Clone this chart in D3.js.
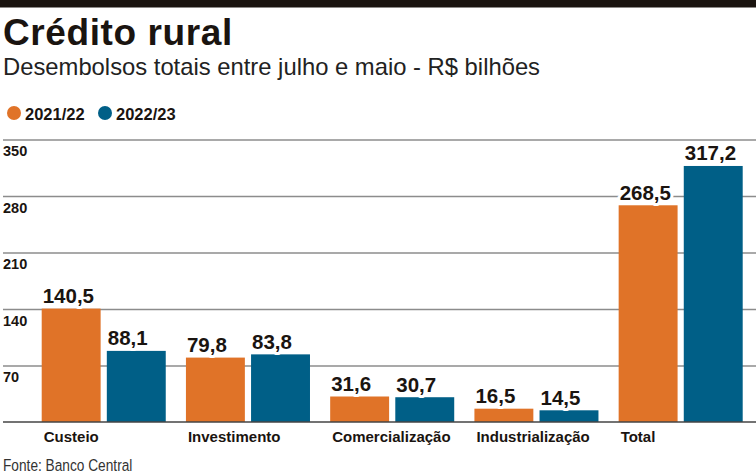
<!DOCTYPE html>
<html>
<head>
<meta charset="utf-8">
<script src="https://cdn.jsdelivr.net/npm/d3@7"></script>
<style>
  body { margin: 0; background: #fff; }
  svg { display: block; font-family: "Liberation Sans", Arial, sans-serif; }
</style>
</head>
<body>
<div id="chart"></div>
<script>
// data
const categories = ["Custeio", "Investimento", "Comercialização", "Industrialização", "Total"];
const seriesNames = ["2021/22", "2022/23"];
const values2122 = [140.5, 79.8, 31.6, 16.5, 268.5];
const values2223 = [88.1, 83.8, 30.7, 14.5, 317.2];
const yTicks = [70, 140, 210, 280, 350];
const colors = ["#e07328", "#005f87"];

const W = 756, H = 473;
const ink = "#1a1410";

const svg = d3.select("#chart")
  .append("svg")
  .attr("width", W)
  .attr("height", H);

// top black strip
svg.append("rect")
  .attr("x", 0).attr("y", 0)
  .attr("width", W).attr("height", 7.5)
  .attr("fill", ink);

// title + subtitle
svg.append("text")
  .attr("x", 3).attr("y", 45)
  .attr("font-size", 37)
  .attr("font-weight", 900)
  .attr("letter-spacing", 0.6)
  .attr("fill", ink)
  .text("Crédito rural");

svg.append("text")
  .attr("x", 3).attr("y", 75)
  .attr("font-size", 23.8)
  .attr("fill", "#222")
  .text("Desembolsos totais entre julho e maio - R$ bilhões");

// legend
const legendX = [14, 105];
const legend = svg.selectAll(".legend")
  .data(seriesNames)
  .enter()
  .append("g")
  .attr("class", "legend")
  .attr("transform", (d, i) => `translate(${legendX[i]},113)`);

legend.append("circle")
  .attr("r", 7)
  .attr("fill", (d, i) => colors[i]);

legend.append("text")
  .attr("x", 11)
  .attr("y", 7)
  .attr("font-size", 16.5)
  .attr("font-weight", "bold")
  .attr("fill", ink)
  .text(d => d);

// scales
const y = d3.scaleLinear()
  .domain([0, 350])
  .range([422, 139.5]);

const x0 = d3.scaleBand()
  .domain(categories)
  .range([41.7, 742.7])
  .paddingInner(0.14)
  .paddingOuter(0);

const x1 = d3.scaleBand()
  .domain(seriesNames)
  .range([0, x0.bandwidth()])
  .paddingInner(0.095);

// gridlines + tick labels
const yAxis = svg.append("g")
  .attr("transform", "translate(3,0)")
  .call(d3.axisRight(y).tickValues(yTicks).tickSize(W - 3));

yAxis.select(".domain").remove();
yAxis.selectAll(".tick line")
  .attr("stroke", "#8c8c8c")
  .attr("stroke-width", 1.6);
yAxis.selectAll(".tick text")
  .attr("x", 0)
  .attr("dy", 16.4)
  .attr("text-anchor", "start")
  .attr("font-family", "Liberation Sans, Arial, sans-serif")
  .attr("font-size", 14.5)
  .attr("font-weight", "bold")
  .attr("fill", ink);

// bars
const rows = categories.map((c, i) => ({ cat: c, vals: [values2122[i], values2223[i]] }));

const groups = svg.selectAll(".group")
  .data(rows)
  .enter()
  .append("g")
  .attr("class", "group")
  .attr("transform", d => `translate(${x0(d.cat)},0)`);

const cells = groups.selectAll(".cell")
  .data(d => d.vals.map((v, i) => ({ series: seriesNames[i], value: v, idx: i })))
  .enter()
  .append("g")
  .attr("class", "cell");

cells.append("rect")
  .attr("x", d => x1(d.series))
  .attr("y", d => y(d.value))
  .attr("width", x1.bandwidth())
  .attr("height", d => y(0) - y(d.value))
  .attr("fill", d => colors[d.idx]);

cells.append("text")
  .attr("x", d => x1(d.series) + 1)
  .attr("y", d => y(d.value) - 5.5)
  .attr("font-size", 20.5)
  .attr("font-weight", "bold")
  .attr("fill", ink)
  .attr("stroke", "#fff")
  .attr("stroke-width", 6)
  .attr("stroke-linejoin", "round")
  .attr("paint-order", "stroke")
  .text(d => d3.format(".1f")(d.value).replace(".", ","));

// baseline
svg.append("line")
  .attr("x1", 3).attr("x2", W)
  .attr("y1", y(0)).attr("y2", y(0))
  .attr("stroke", "#444")
  .attr("stroke-width", 1.6);

// category labels
const xAxis = svg.append("g")
  .attr("transform", `translate(0,${y(0)})`)
  .call(d3.axisBottom(x0).tickSize(0));

xAxis.select(".domain").remove();
xAxis.selectAll(".tick text")
  .attr("x", -x0.bandwidth() / 2 + 2)
  .attr("y", 20)
  .attr("dy", 0)
  .attr("text-anchor", "start")
  .attr("font-family", "Liberation Sans, Arial, sans-serif")
  .attr("font-size", 15)
  .attr("font-weight", "bold")
  .attr("fill", ink);

// source (condensed look)
svg.append("text")
  .attr("transform", "translate(3,471) scale(0.83,1)")
  .attr("font-size", 16.5)
  .attr("fill", "#333")
  .text("Fonte: Banco Central");
</script>
</body>
</html>
